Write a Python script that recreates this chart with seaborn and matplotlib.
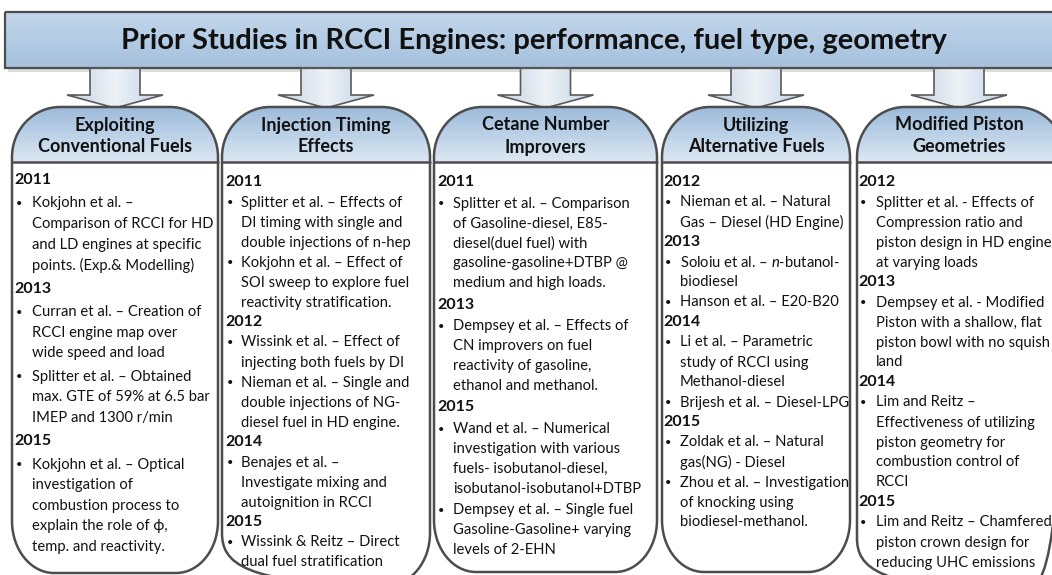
import numpy as np
import matplotlib
matplotlib.use("Agg")
import matplotlib.pyplot as plt
from matplotlib.path import Path
from matplotlib.patches import PathPatch, Polygon, Rectangle
from matplotlib.colors import LinearSegmentedColormap
import seaborn as sns

sns.set_theme(style="white")
plt.rcParams['font.family'] = ['Lato', 'DejaVu Sans']
plt.rcParams['mathtext.fontset'] = 'custom'
plt.rcParams['mathtext.rm'] = 'Lato'
plt.rcParams['mathtext.it'] = 'Lato:italic'
plt.rcParams['mathtext.bf'] = 'Lato:bold'

# ---------------- content ----------------
title = "Prior Studies in RCCI Engines: performance, fuel type, geometry"

headers = [
    ["Exploiting", "Conventional Fuels"],
    ["Injection Timing", "Effects"],
    ["Cetane Number", "Improvers"],
    ["Utilizing", "Alternative Fuels"],
    ["Modified Piston", "Geometries"],
]

conventional_fuels = [
    ("2011", [["Kokjohn et al. –", "Comparison of RCCI for HD",
               "and LD engines at specific", "points. (Exp.& Modelling)"]]),
    ("2013", [["Curran et al. – Creation of", "RCCI engine map over",
               "wide speed and load"],
              ["Splitter et al. – Obtained", "max. GTE of 59% at 6.5 bar",
               "IMEP and 1300 r/min"]]),
    ("2015", [["Kokjohn et al. – Optical", "investigation of",
               "combustion process to", "explain the role of ϕ,",
               "temp. and reactivity."]]),
]

injection_timing = [
    ("2011", [["Splitter et al. – Effects of", "DI timing with single and",
               "double injections of n-hep"],
              ["Kokjohn et al. – Effect of", "SOI sweep to explore fuel",
               "reactivity stratification."]]),
    ("2012", [["Wissink et al. – Effect of", "injecting both fuels by DI"],
              ["Nieman et al. – Single and", "double injections of NG-",
               "diesel fuel in HD engine."]]),
    ("2014", [["Benajes et al. –", "Investigate mixing and",
               "autoignition in RCCI"]]),
    ("2015", [["Wissink & Reitz – Direct", "dual fuel stratification"]]),
]

cetane_improvers = [
    ("2011", [["Splitter et al. – Comparison", "of Gasoline-diesel, E85-",
               "diesel(duel fuel) with", "gasoline-gasoline+DTBP @",
               "medium and high loads."]]),
    ("2013", [["Dempsey et al. – Effects of", "CN improvers on fuel",
               "reactivity of gasoline,", "ethanol and methanol."]]),
    ("2015", [["Wand et al. – Numerical", "investigation with various",
               "fuels- isobutanol-diesel,", "isobutanol-isobutanol+DTBP"],
              ["Dempsey et al. – Single fuel", "Gasoline-Gasoline+ varying",
               "levels of 2-EHN"]]),
]

alternative_fuels = [
    ("2012", [["Nieman et al. – Natural", "Gas – Diesel (HD Engine)"]]),
    ("2013", [["Soloiu et al. – $\\mathit{n}$-butanol-", "biodiesel"],
              ["Hanson et al. – E20-B20"]]),
    ("2014", [["Li et al. – Parametric", "study of RCCI using",
               "Methanol-diesel"],
              ["Brijesh et al. – Diesel-LPG"]]),
    ("2015", [["Zoldak et al. – Natural", "gas(NG) - Diesel"],
              ["Zhou et al. – Investigation", "of knocking using",
               "biodiesel-methanol."]]),
]

piston_geometries = [
    ("2012", [["Splitter et al. - Effects of", "Compression ratio and",
               "piston design in HD engine", "at varying loads"]]),
    ("2013", [["Dempsey et al. - Modified", "Piston with a shallow, flat",
               "piston bowl with no squish", "land"]]),
    ("2014", [["Lim and Reitz –", "Effectiveness of utilizing",
               "piston geometry for", "combustion control of", "RCCI"]]),
    ("2015", [["Lim and Reitz – Chamfered", "piston crown design for",
               "reducing UHC emissions"]]),
]

column_entries = [conventional_fuels, injection_timing, cetane_improvers,
                  alternative_fuels, piston_geometries]

# ---------------- layout (pixel coordinates) ----------------
W, H = 1052, 575
fig = plt.figure(figsize=(W / 100, H / 100), dpi=100)
ax = fig.add_axes([0, 0, 1, 1])
ax.set_xlim(0, W)
ax.set_ylim(H, 0)
ax.axis('off')

# x0, x1, bottom, year_x, bullet_x, text_x, first_y, line_h, gap
layout = [
    (12, 218, 573, 14, 19, 32, 180, 20.6, 2.8),
    (222, 430, 585, 225, 230, 241, 182.5, 20.0, 0.0),
    (434, 657, 572, 437, 441, 453, 182, 19.8, 1.9),
    (662, 850, 572, 663, 668, 680, 182.5, 20.0, 0.0),
    (857, 1065, 590, 858, 863, 876, 182.5, 20.0, 0.0),
]
HEAD_TOP, HEAD_BOT = 107, 162
EDGE = '#4d4d4d'
K = 0.5523


def rounded_path(x0, x1, yt, yb, rtx, rty, rbx, rby):
    verts, codes = [], []
    def mv(p):
        verts.append(p); codes.append(Path.MOVETO)
    def ln(p):
        verts.append(p); codes.append(Path.LINETO)
    def cv(c1, c2, p):
        verts.extend([c1, c2, p]); codes.extend([Path.CURVE4] * 3)
    mv((x0, yt + rty))
    if rtx > 0:
        cv((x0, yt + rty * (1 - K)), (x0 + rtx * (1 - K), yt), (x0 + rtx, yt))
    ln((x1 - rtx, yt))
    if rtx > 0:
        cv((x1 - rtx * (1 - K), yt), (x1, yt + rty * (1 - K)), (x1, yt + rty))
    ln((x1, yb - rby))
    if rbx > 0:
        cv((x1, yb - rby * (1 - K)), (x1 - rbx * (1 - K), yb), (x1 - rbx, yb))
    ln((x0 + rbx, yb))
    if rbx > 0:
        cv((x0 + rbx * (1 - K), yb), (x0, yb - rby * (1 - K)), (x0, yb - rby))
    verts.append((x0, yt + rty)); codes.append(Path.CLOSEPOLY)
    return Path(verts, codes)


def gradient_fill(patch, extent, colors, vertical=True, z=1):
    cmap = LinearSegmentedColormap.from_list('g', colors)
    g = np.linspace(0, 1, 256)
    arr = g.reshape(-1, 1) if vertical else g.reshape(1, -1)
    im = ax.imshow(arr, cmap=cmap, extent=extent, aspect='auto',
                   origin='upper', zorder=z, interpolation='bicubic')
    im.set_clip_path(patch)


# ---- banner ----
bx0, bx1, by0, by1 = 5, 1060, 12, 68
shadow = Rectangle((bx0 + 3, by0 + 4), bx1 - bx0, by1 - by0,
                   facecolor='#9a9a9a', edgecolor='none', alpha=0.35, zorder=1)
ax.add_patch(shadow)
banner = Rectangle((bx0, by0), bx1 - bx0, by1 - by0, facecolor='none',
                   edgecolor=EDGE, lw=1.6, zorder=3)
ax.add_patch(banner)
gradient_fill(banner, (bx0, bx1, by1, by0),
              ['#c3d7eb', '#b3cbe4', '#a6c1dd'], vertical=True, z=2)
ax.text(534, 41, title, ha='center', va='center', fontsize=21,
        fontweight='bold', color='#111111', zorder=4)

# ---- arrows, columns ----
for (x0, x1, yb, yx, bux, tx, y0, lh, gap), head, entries in zip(
        layout, headers, column_entries):
    cx = (x0 + x1) / 2 if x1 < W else 959
    # arrow
    sw, hw = 25, 48
    arrow = Polygon([(cx - sw, by1), (cx + sw, by1), (cx + sw, 95),
                     (cx + hw, 95), (cx, 108), (cx - hw, 95), (cx - sw, 95)],
                    closed=True, facecolor='none', edgecolor='#5a5a5a',
                    lw=1.2, zorder=3)
    ax.add_patch(arrow)
    gradient_fill(arrow, (cx - hw, cx + hw, 108, by1),
                  ['#c4d2e2', '#eef2f7', '#bfd1e6'], vertical=False, z=2)

    # column body
    body = PathPatch(rounded_path(x0, x1, HEAD_BOT, yb, 0, 0, 42, 52),
                     facecolor='white', edgecolor='none', zorder=2)
    ax.add_patch(body)
    # header
    hpath = rounded_path(x0, x1, HEAD_TOP, HEAD_BOT, 48, 50, 0, 0)
    hpatch = PathPatch(hpath, facecolor='none', edgecolor='none', zorder=3)
    ax.add_patch(hpatch)
    gradient_fill(hpatch, (x0, x1, HEAD_BOT, HEAD_TOP),
                  ['#9cbbda', '#bcd1e7', '#dde8f3'], vertical=True, z=3)
    # outline
    outline = PathPatch(rounded_path(x0, x1, HEAD_TOP, yb, 48, 50, 42, 52),
                        facecolor='none', edgecolor=EDGE, lw=1.8, zorder=5)
    ax.add_patch(outline)
    ax.plot([x0, x1], [HEAD_BOT, HEAD_BOT], color=EDGE, lw=1.8, zorder=5)

    # header text
    ax.text(cx, 125, head[0], ha='center', va='center', fontsize=13,
            fontweight='bold', color='#111111', zorder=6)
    ax.text(cx, 147, head[1], ha='center', va='center', fontsize=13,
            fontweight='bold', color='#111111', zorder=6)

    # body text
    y = y0
    first = True
    for year, bullets in entries:
        if not first:
            y += gap
        first = False
        ax.text(yx, y, year, ha='left', va='center', fontsize=11.5,
                fontweight='bold', color='#111111', zorder=6)
        y += lh
        for lines in bullets:
            y += gap
            ax.text(bux, y, '•', ha='center', va='center', fontsize=8,
                    color='#111111', zorder=6)
            for ln_ in lines:
                ax.text(tx, y, ln_, ha='left', va='center', fontsize=10.6,
                        color='#111111', zorder=6)
                y += lh

fig.savefig('out.png', dpi=100)
